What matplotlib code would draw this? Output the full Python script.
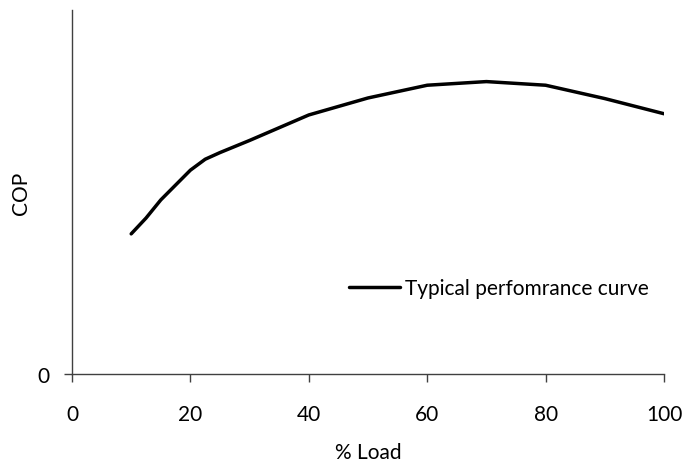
import matplotlib
matplotlib.use("Agg")
import matplotlib.pyplot as plt

load_pct = [10, 12.5, 15, 20, 22.5, 25, 30, 40, 50, 60, 70, 80, 90, 100]
cop = [2.31, 2.57, 2.87, 3.36, 3.54, 3.65, 3.85, 4.27, 4.55, 4.76, 4.82, 4.76, 4.54, 4.29]
series_label = "Typical perfomrance curve"
x_ticks = [0, 20, 40, 60, 80, 100]
y_ticks = [0]

plt.rcParams['font.family'] = ['Lato', 'DejaVu Sans']
fs = 15
fig = plt.figure(figsize=(6.87, 4.64), dpi=100)
ax = fig.add_axes([72/687, (464-375)/464, (664-72)/687, (375-11)/464])

ax.plot(load_pct, cop, color='black', lw=2.5, solid_capstyle='round', label=series_label)
ax.set_xlim(0, 100)
ax.set_ylim(0, 6)
ax.set_xticks(x_ticks)
ax.set_yticks(y_ticks)
for s in ['top', 'right']:
    ax.spines[s].set_visible(False)
for s in ['left', 'bottom']:
    ax.spines[s].set_color('#404040')
    ax.spines[s].set_linewidth(1.0)
ax.tick_params(axis='x', direction='out', length=6, width=1, color='#404040', pad=15.5, labelsize=fs)
ax.tick_params(axis='y', direction='out', length=6, width=1, color='#404040', pad=10, labelsize=fs)
ax.set_xlabel('% Load', fontsize=fs, labelpad=13)
ax.set_ylabel('COP', fontsize=fs, labelpad=5)

ax.legend(loc='center left', bbox_to_anchor=((349-72)/592, (375-289)/364), frameon=False,
          borderaxespad=0, borderpad=0, handlelength=2.45, handletextpad=0.25, fontsize=fs)

fig.savefig('out.png', dpi=100)
